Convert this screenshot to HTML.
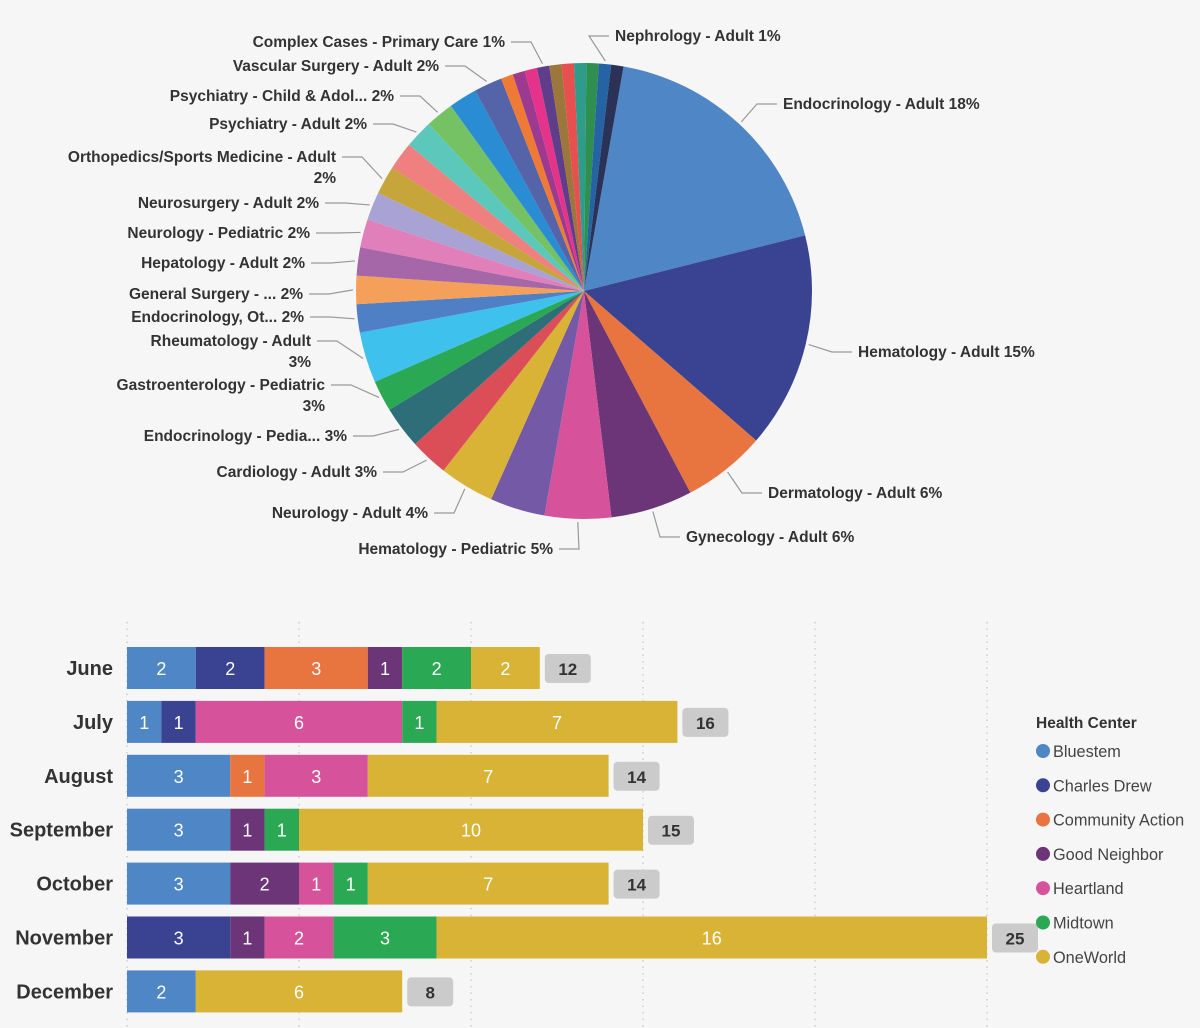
<!DOCTYPE html>
<html><head><meta charset="utf-8"><style>
html,body{margin:0;padding:0;background:#F6F6F6;}
svg{display:block;font-family:"Liberation Sans",sans-serif;}
</style></head><body>
<svg id="chart" width="1200" height="1028" viewBox="0 0 1200 1028">
<rect width="1200" height="1028" fill="#F6F6F6"/>
<g id="pie"></g>
<g id="bars"></g>
<g id="legend"></g>
</svg>
<script>
// ---------- PIE DATA ----------
const pieValues = [18.3,15.3,5.9,5.8,4.7,3.9,3.9,2.7,3.0,2.2,3.6,2,2,2,2,2,2,2,2,2,2,2,0.87,0.87,0.87,0.87,0.87,0.87,0.87,0.87,0.87,0.87];
const pieColors = ["#4F86C6","#3A4391","#E8743F","#6B3577","#D6539C","#7459A6","#D9B335","#DB4D57","#2E6E78","#2BA853","#3EC1EC","#4F7FC4","#F5A05A","#A667A8","#E07FBA","#A9A3D5","#C6A53A","#F07F7F","#5CC8BB","#75C265","#2A8DD4","#5563A8","#EE7A35","#9B3A8E","#E5338B","#5E3E8A","#9C773B","#E8504F","#2E9C8A","#2E8F4F","#2563A5","#2A3357"];
const pieLabelText = [
 ["Endocrinology - Adult 18%"],["Hematology - Adult 15%"],["Dermatology - Adult 6%"],["Gynecology - Adult 6%"],
 ["Hematology - Pediatric 5%"],["Neurology - Adult 4%"],["Cardiology - Adult 3%"],["Endocrinology - Pedia... 3%"],
 ["Gastroenterology - Pediatric","3%"],["Rheumatology - Adult","3%"],["Endocrinology, Ot... 2%"],["General Surgery - ... 2%"],
 ["Hepatology - Adult 2%"],["Neurology - Pediatric 2%"],["Neurosurgery - Adult 2%"],["Orthopedics/Sports Medicine - Adult","2%"],
 ["Psychiatry - Adult 2%"],["Psychiatry - Child & Adol... 2%"],["Vascular Surgery - Adult 2%"],["Complex Cases - Primary Care 1%"],
 ["Nephrology - Adult 1%"]];
const pieLabelSlice = [0,1,2,3,4,6,7,8,9,10,11,12,13,14,15,16,18,19,21,25,30];
// layout only (x anchor, baseline y, side)
const pieLabelPos = [[783,109,1],[858,357,1],[768,498,1],[686,542,1],[553,554,-1],[428,518,-1],[377,477,-1],[347,441,-1],
 [325,390,-1],[311,346,-1],[304,322,-1],[303,299,-1],[305,268,-1],[310,238,-1],[319,208,-1],[336,162,-1],[367,129,-1],[394,101,-1],[439,71,-1],[505,47,-1],[615,41,1]];

const NS="http://www.w3.org/2000/svg";
function mk(tag,attrs,parent){const e=document.createElementNS(NS,tag);for(const k in attrs)e.setAttribute(k,attrs[k]);parent.appendChild(e);return e;}

const pie=document.getElementById('pie');
const cx=584,cy=291,R=228,start=10;
const total=pieValues.reduce((a,b)=>a+b,0);
function pt(deg,r){const a=(deg-90)*Math.PI/180;return [cx+r*Math.cos(a),cy+r*Math.sin(a)];}
let acc=0;const mids=[];
pieValues.forEach((v,i)=>{
  const a0=start+acc/total*360;acc+=v;const a1=start+acc/total*360;mids.push((a0+a1)/2);
  const p0=pt(a0,R),p1=pt(a1,R);const large=(a1-a0)>180?1:0;
  const s=mk('path',{d:`M${cx},${cy}L${p0[0]},${p0[1]}A${R},${R} 0 ${large} 1 ${p1[0]},${p1[1]}Z`,fill:pieColors[i]},pie);
  
  
});
pieLabelText.forEach((lines,i)=>{
  const [x,y,side]=pieLabelPos[i];
  const m=mids[pieLabelSlice[i]];const p=pt(m,R+3);
  const ly=y-5;const ex=side>0?x-26:x+26;const sx=side>0?x-6:x+6;
  const l=mk('polyline',{points:`${p[0]},${p[1]} ${ex},${ly} ${sx},${ly}`,fill:'none',stroke:'#999','stroke-width':1.2},pie);
  
  
  lines.forEach((t,j)=>{
    const tx=mk('text',{x:x,y:y+j*21,'text-anchor':side>0?'start':'end','font-size':'15.5','font-weight':'bold',fill:'#333'},pie);
    tx.textContent=t;
    
    
  });
});

// ---------- BAR DATA ----------
const months=["June","July","August","September","October","November","December"];
const centers=["Bluestem","Charles Drew","Community Action","Good Neighbor","Heartland","Midtown","OneWorld"];
const centerColors=["#4F86C6","#3A4391","#E8743F","#6B3577","#D6539C","#2BA853","#D9B335"];
const bluestem=[2,1,3,3,3,0,2];
const charlesDrew=[2,1,0,0,0,3,0];
const communityAction=[3,0,1,0,0,0,0];
const goodNeighbor=[1,0,0,1,2,1,0];
const heartland=[0,6,3,0,1,2,0];
const midtown=[2,1,0,1,1,3,0];
const oneWorld=[2,7,7,10,7,16,6];
const xTicks=[0,5,10,15,20,25];
const series=[bluestem,charlesDrew,communityAction,goodNeighbor,heartland,midtown,oneWorld];

const bars=document.getElementById('bars');
const x0=127,unit=34.4;const xs=v=>x0+v*unit;
const rowY=i=>668+i*53.9;const bh=42;
xTicks.forEach(t=>{const g=mk('line',{x1:xs(t),x2:xs(t),y1:622,y2:1028,stroke:'#bbb','stroke-width':1,'stroke-dasharray':'1.5,5'},bars);
  
  });
months.forEach((m,i)=>{
  const cyb=rowY(i);
  const lb=mk('text',{x:113,y:cyb+7,'text-anchor':'end','font-size':'20','font-weight':'bold',fill:'#333'},bars);
  lb.textContent=m;
  
  
  let s=0;
  series.forEach((arr,k)=>{
    const v=arr[i];if(!v)return;
    const r=mk('rect',{x:xs(s),y:cyb-bh/2,width:v*unit,height:bh,fill:centerColors[k]},bars);
    
    
    const t=mk('text',{x:xs(s+v/2),y:cyb+7,'text-anchor':'middle','font-size':'18',fill:'#fff'},bars);
    t.textContent=v;
    
    
    s+=v;
  });
  const bx=xs(s)+5;
  const b=mk('rect',{x:bx,y:cyb-14,width:46,height:29,rx:4,fill:'#CBCBCB'},bars);
  
  
  const bt=mk('text',{x:bx+23,y:cyb+7,'text-anchor':'middle','font-size':'17','font-weight':'bold',fill:'#333'},bars);
  bt.textContent=s;
  
  
});

// ---------- LEGEND ----------
const leg=document.getElementById('legend');
const lt=mk('text',{x:1036,y:728,'font-size':'15.5','font-weight':'bold',fill:'#333'},leg);
lt.textContent="Health Center";


centers.forEach((c,i)=>{
  const y=751+i*34.3;
  const d=mk('circle',{cx:1043,cy:y,r:7,fill:centerColors[i]},leg);
  
  
  const t=mk('text',{x:1053,y:y+6,'font-size':'16.3',fill:'#444'},leg);
  t.textContent=c;
  
  
});
</script>
</body></html>
